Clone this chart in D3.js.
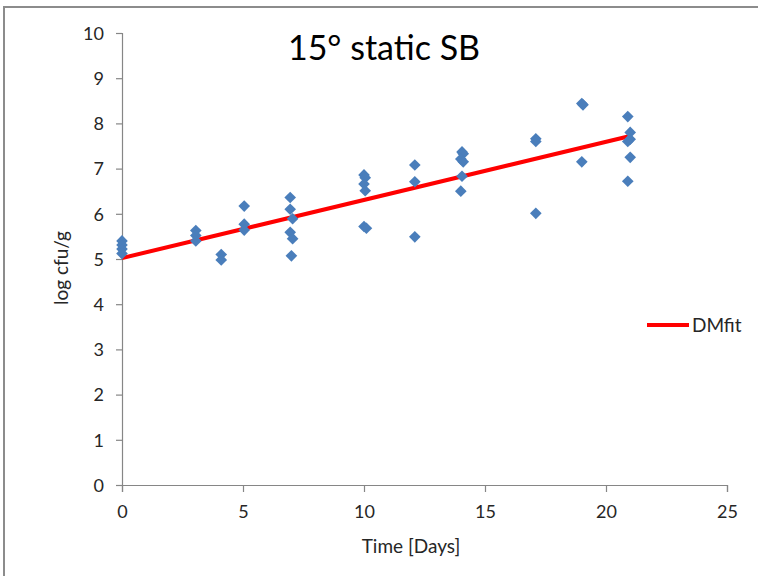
<!DOCTYPE html>
<html>
<head>
<meta charset="utf-8">
<script src="https://cdn.jsdelivr.net/npm/d3@7"></script>
<style>
  html, body { margin: 0; padding: 0; background: #fff; }
  svg { display: block; font-family: Lato, Carlito, Calibri, "Open Sans", sans-serif; }
</style>
</head>
<body>
<svg id="chart" width="758" height="576"></svg>
<script>
// ---- data ----
const title = "15° static SB";
const xLabel = "Time [Days]";
const yLabel = "log cfu/g";
const seriesName = "DMfit";
const xTicks = [0, 5, 10, 15, 20, 25];
const yTicks = [0, 1, 2, 3, 4, 5, 6, 7, 8, 9, 10];

const obsDays = [
  0, 0, 0, 0,
  3.05, 3.05, 3.05,
  4.1, 4.1,
  5.05, 5.05, 5.05,
  6.95, 6.95, 7.05, 6.95, 7.05, 7.0,
  10, 10.05, 10, 10.05, 10, 10.1,
  12.1, 12.1, 12.1,
  14.05, 14.1, 14.0, 14.1, 14.05, 14.0,
  17.1, 17.1, 17.1,
  19.0, 19.05, 19.0,
  20.9, 21.0, 21.0, 20.9, 21.0, 20.9
];
const obsLogCfu = [
  5.40, 5.31, 5.22, 5.12,
  5.63, 5.52, 5.40,
  5.10, 4.98,
  6.17, 5.77, 5.64,
  6.36, 6.10, 5.89, 5.59, 5.45, 5.07,
  6.86, 6.80, 6.66, 6.51, 5.72, 5.68,
  7.08, 6.71, 5.49,
  7.37, 7.33, 7.21, 7.15, 6.83, 6.50,
  7.66, 7.60, 6.01,
  8.44, 8.41, 7.15,
  8.15, 7.80, 7.65, 7.60, 7.25, 6.72
];
const fitDays = [0, 21];
const fitLogCfu = [5.02, 7.72];

// ---- drawing ----
const svg = d3.select("#chart");
const axisColor = "#868686";
const textColor = "#262626";

// outer chart frame
svg.append("rect")
  .attr("x", 4).attr("y", 7).attr("width", 800).attr("height", 600)
  .attr("fill", "none").attr("stroke", "#8c8c8c").attr("stroke-width", 2);

const x = d3.scaleLinear().domain([0, 25]).range([122, 727]);
const y = d3.scaleLinear().domain([0, 10]).range([485, 33]);

// axes
const xAxis = svg.append("g").attr("transform", `translate(0,${y(0)})`)
  .call(d3.axisBottom(x).tickValues(xTicks).tickSize(7).tickPadding(13).tickFormat(d3.format("d")));
const yAxis = svg.append("g").attr("transform", `translate(${x(0)},0)`)
  .call(d3.axisLeft(y).tickValues(yTicks).tickSize(6).tickPadding(12).tickFormat(d3.format("d")));

[xAxis, yAxis].forEach(g => {
  g.select(".domain").attr("stroke", axisColor).attr("stroke-width", 1.2);
  g.selectAll(".tick line").attr("stroke", axisColor).attr("stroke-width", 1.2);
  g.selectAll(".tick text").attr("fill", textColor).attr("font-size", 18)
    .attr("font-family", "Lato, Carlito, Calibri, sans-serif");
});
yAxis.selectAll(".tick text").attr("dy", "0.35em");

// fit line
const pts = fitDays.map((d, i) => [d, fitLogCfu[i]]);
svg.append("path")
  .datum(pts)
  .attr("fill", "none")
  .attr("stroke", "#ff0000")
  .attr("stroke-width", 4)
  .attr("d", d3.line().x(d => x(d[0])).y(d => y(d[1])));

// observed points (diamonds)
const diamond = d3.symbol().type(d3.symbolSquare).size(68);
svg.append("g").selectAll("path")
  .data(obsDays.map((d, i) => [d, obsLogCfu[i]]))
  .join("path")
  .attr("d", diamond)
  .attr("transform", d => `translate(${x(d[0])},${y(d[1])}) rotate(45)`)
  .attr("fill", "#4a7ebb");

// title
svg.append("text")
  .attr("x", 384).attr("y", 60)
  .attr("text-anchor", "middle")
  .attr("font-size", 34)
  .attr("fill", "#000")
  .text(title);

// axis titles
svg.append("text")
  .attr("x", 411).attr("y", 553)
  .attr("text-anchor", "middle")
  .attr("font-size", 19)
  .attr("fill", textColor)
  .text(xLabel);
svg.append("text")
  .attr("transform", "translate(68,268) rotate(-90)")
  .attr("text-anchor", "middle")
  .attr("font-size", 19)
  .attr("fill", textColor)
  .text(yLabel);

// legend
const lg = svg.append("g").attr("transform", "translate(647,325)");
lg.append("line").attr("x1", 0).attr("x2", 42).attr("y1", 0).attr("y2", 0)
  .attr("stroke", "#ff0000").attr("stroke-width", 4);
lg.append("text").attr("x", 45).attr("y", 0).attr("dy", "0.35em")
  .attr("font-size", 19).attr("fill", textColor).text(seriesName);
</script>
</body>
</html>
